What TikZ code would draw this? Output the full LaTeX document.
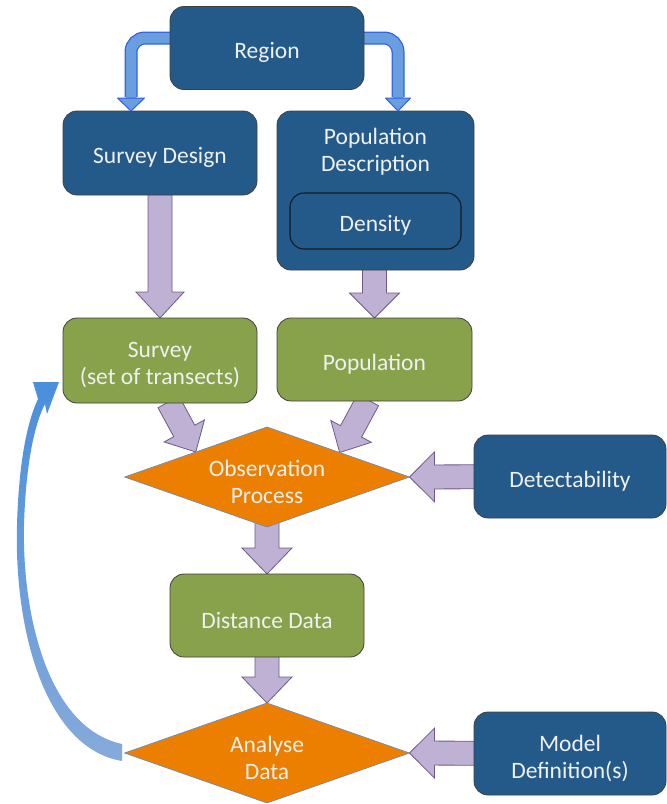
\documentclass[tikz,border=0pt]{standalone}
\usepackage{fontspec}
\setmainfont{Carlito}
\usetikzlibrary{shapes.geometric,calc}
\pgfdeclarelayer{bg}
\pgfsetlayers{bg,main}
\definecolor{dblue}{HTML}{245A8A}
\definecolor{dgreen}{HTML}{87A24A}
\definecolor{dorange}{HTML}{EC7F00}
\definecolor{txt}{HTML}{F0F0F0}
\definecolor{lav}{HTML}{BFB1D3}
\definecolor{lavb}{HTML}{6E5A8A}
\definecolor{bband}{HTML}{6A9FDF}
\definecolor{bbord}{HTML}{2F5FE8}
\definecolor{dedge}{HTML}{5B8BC8}
\definecolor{curvetop}{HTML}{4A8FDC}
\definecolor{curvebot}{HTML}{86AADA}
\tikzset{
  lbl/.style={font=\fontsize{23.5}{27}\selectfont, text=txt, align=center},
  tx/.style={label={[lbl,yshift=-4.5pt]center:{#1}}},
  box/.style={rectangle, rounded corners=14pt, draw=black!75, line width=0.8pt,
    minimum width=194pt, minimum height=83pt, inner sep=0pt, outer sep=0pt},
  bluebox/.style={box, fill=dblue},
  greenbox/.style={box, fill=dgreen},
  dec/.style={diamond, fill=dorange, draw=dedge, line width=0.6pt,
    minimum width=285pt, minimum height=100pt, inner sep=0pt, outer sep=0pt},
  fatarrowstyle/.style={fill=lav, draw=lavb, line width=0.8pt, line join=miter},
}
% #1 tail, #2 tip, #3 head length, #4 head half-width
\newcommand\fatarrow[4]{%
  \filldraw[fatarrowstyle] let \p1=(#1), \p2=(#2), \n1={atan2(\y2-\y1,\x2-\x1)} in
  ($(\p1)+({\n1+90}:12pt)$) -- ($(\p2)+({\n1+180}:#3pt)+({\n1+90}:12pt)$) --
  ($(\p2)+({\n1+180}:#3pt)+({\n1+90}:#4pt)$) -- (\p2) --
  ($(\p2)+({\n1+180}:#3pt)+({\n1-90}:#4pt)$) --
  ($(\p2)+({\n1+180}:#3pt)+({\n1-90}:12pt)$) --
  ($(\p1)+({\n1-90}:12pt)$) -- cycle;}
\begin{document}
\begin{tikzpicture}[x=1pt,y=-1pt]
\useasboundingbox (0,0) rectangle (667,804);
% nodes
\node[bluebox, tx={Region}] (reg) at (267,48) {};
\node[bluebox, minimum height=84pt, tx={Survey Design}] (sd) at (160,153) {};
\node[bluebox, minimum width=197pt, minimum height=159pt] (pd) at (375.5,190.5) {};
\node[lbl] (pdt) at (375.5,152) {Population\\Description};
\node[bluebox, draw=black!90, line width=1.1pt, minimum width=171pt, minimum height=56pt, tx={Density}] (den) at (375.5,221) {};
\node[greenbox, minimum height=85pt, tx={Survey\\(set of transects)}] (sv) at (160,360.5) {};
\node[greenbox, minimum width=195pt, tx={Population}] (pop) at (374.5,359.5) {};
\node[dec, tx={Observation\\Process}] (obs) at (267,477) {};
\node[bluebox, minimum width=192pt, tx={Detectability}] (det) at (570,476.5) {};
\node[greenbox, tx={Distance Data}] (dd) at (267,615.5) {};
\node[dec, tx={Analyse\\Data}] (ana) at (267,753) {};
\node[bluebox, minimum width=192pt, tx={Model\\Definition(s)}] (mod) at (570,753.5) {};
% helper coordinates
\coordinate (lt) at ($(sd.north)+(-29,0)$);
\coordinate (rt) at ($(pd.north)+(22.5,0)$);
\coordinate (s1) at ($(sv.south)+(8.5,-1)$);
\coordinate (o1) at ($(obs.north)!0.5!(obs.west)$);
\coordinate (s2) at ($(pop.south)+(-6.5,-1)$);
\coordinate (o2) at ($(obs.north)!0.51!(obs.east)$);
\begin{pgfonlayer}{bg}
% blue bands from Region
\draw[bbord, line width=13pt, rounded corners=14pt] (reg.center |- 0,38) -| ($(lt)+(0,-14)$);
\draw[bband, line width=10.5pt, rounded corners=14pt] (reg.center |- 0,38) -| ($(lt)+(0,-12)$);
\draw[bbord, line width=13pt, rounded corners=14pt] (reg.center |- 0,38) -| ($(rt)+(0,-14)$);
\draw[bband, line width=10.5pt, rounded corners=14pt] (reg.center |- 0,38) -| ($(rt)+(0,-12)$);
% purple arrows
\fatarrow{sd.center}{sv.north}{26}{24}
\fatarrow{pd.center -| pop.north}{pop.north}{25}{25}
\fatarrow{s1}{o1}{24}{23}
\fatarrow{s2}{o2}{24}{23}
\fatarrow{det.center}{obs.east}{25}{25}
\fatarrow{obs.center}{dd.north}{26}{25}
\fatarrow{dd.center}{ana.north}{26}{25}
\fatarrow{mod.center}{ana.east}{25}{25}
\end{pgfonlayer}
% blue arrow heads
\filldraw[fill=bband, draw=bbord, line width=1pt, line join=round]
  ($(lt)+(-13.5,-13)$) -- ($(lt)+(13.5,-13)$) -- (lt) -- cycle;
\filldraw[fill=bband, draw=bbord, line width=1pt, line join=round]
  ($(rt)+(-12.5,-13)$) -- ($(rt)+(12.5,-13)$) -- (rt) -- cycle;
% feedback curved arrow from Analyse Data to Survey
\shade[top color=curvetop, bottom color=curvebot]
  (122,761) .. controls (45,748) and (14,630) .. (17,525)
  .. controls (19,455) and (29,418) .. (38,399)
  -- (33,382) -- (59,382) -- (47,414) -- (45,404)
  .. controls (36,421) and (26,458) .. (24,525)
  .. controls (22,615) and (48,728) .. (122,744) -- cycle;
\end{tikzpicture}
\end{document}
